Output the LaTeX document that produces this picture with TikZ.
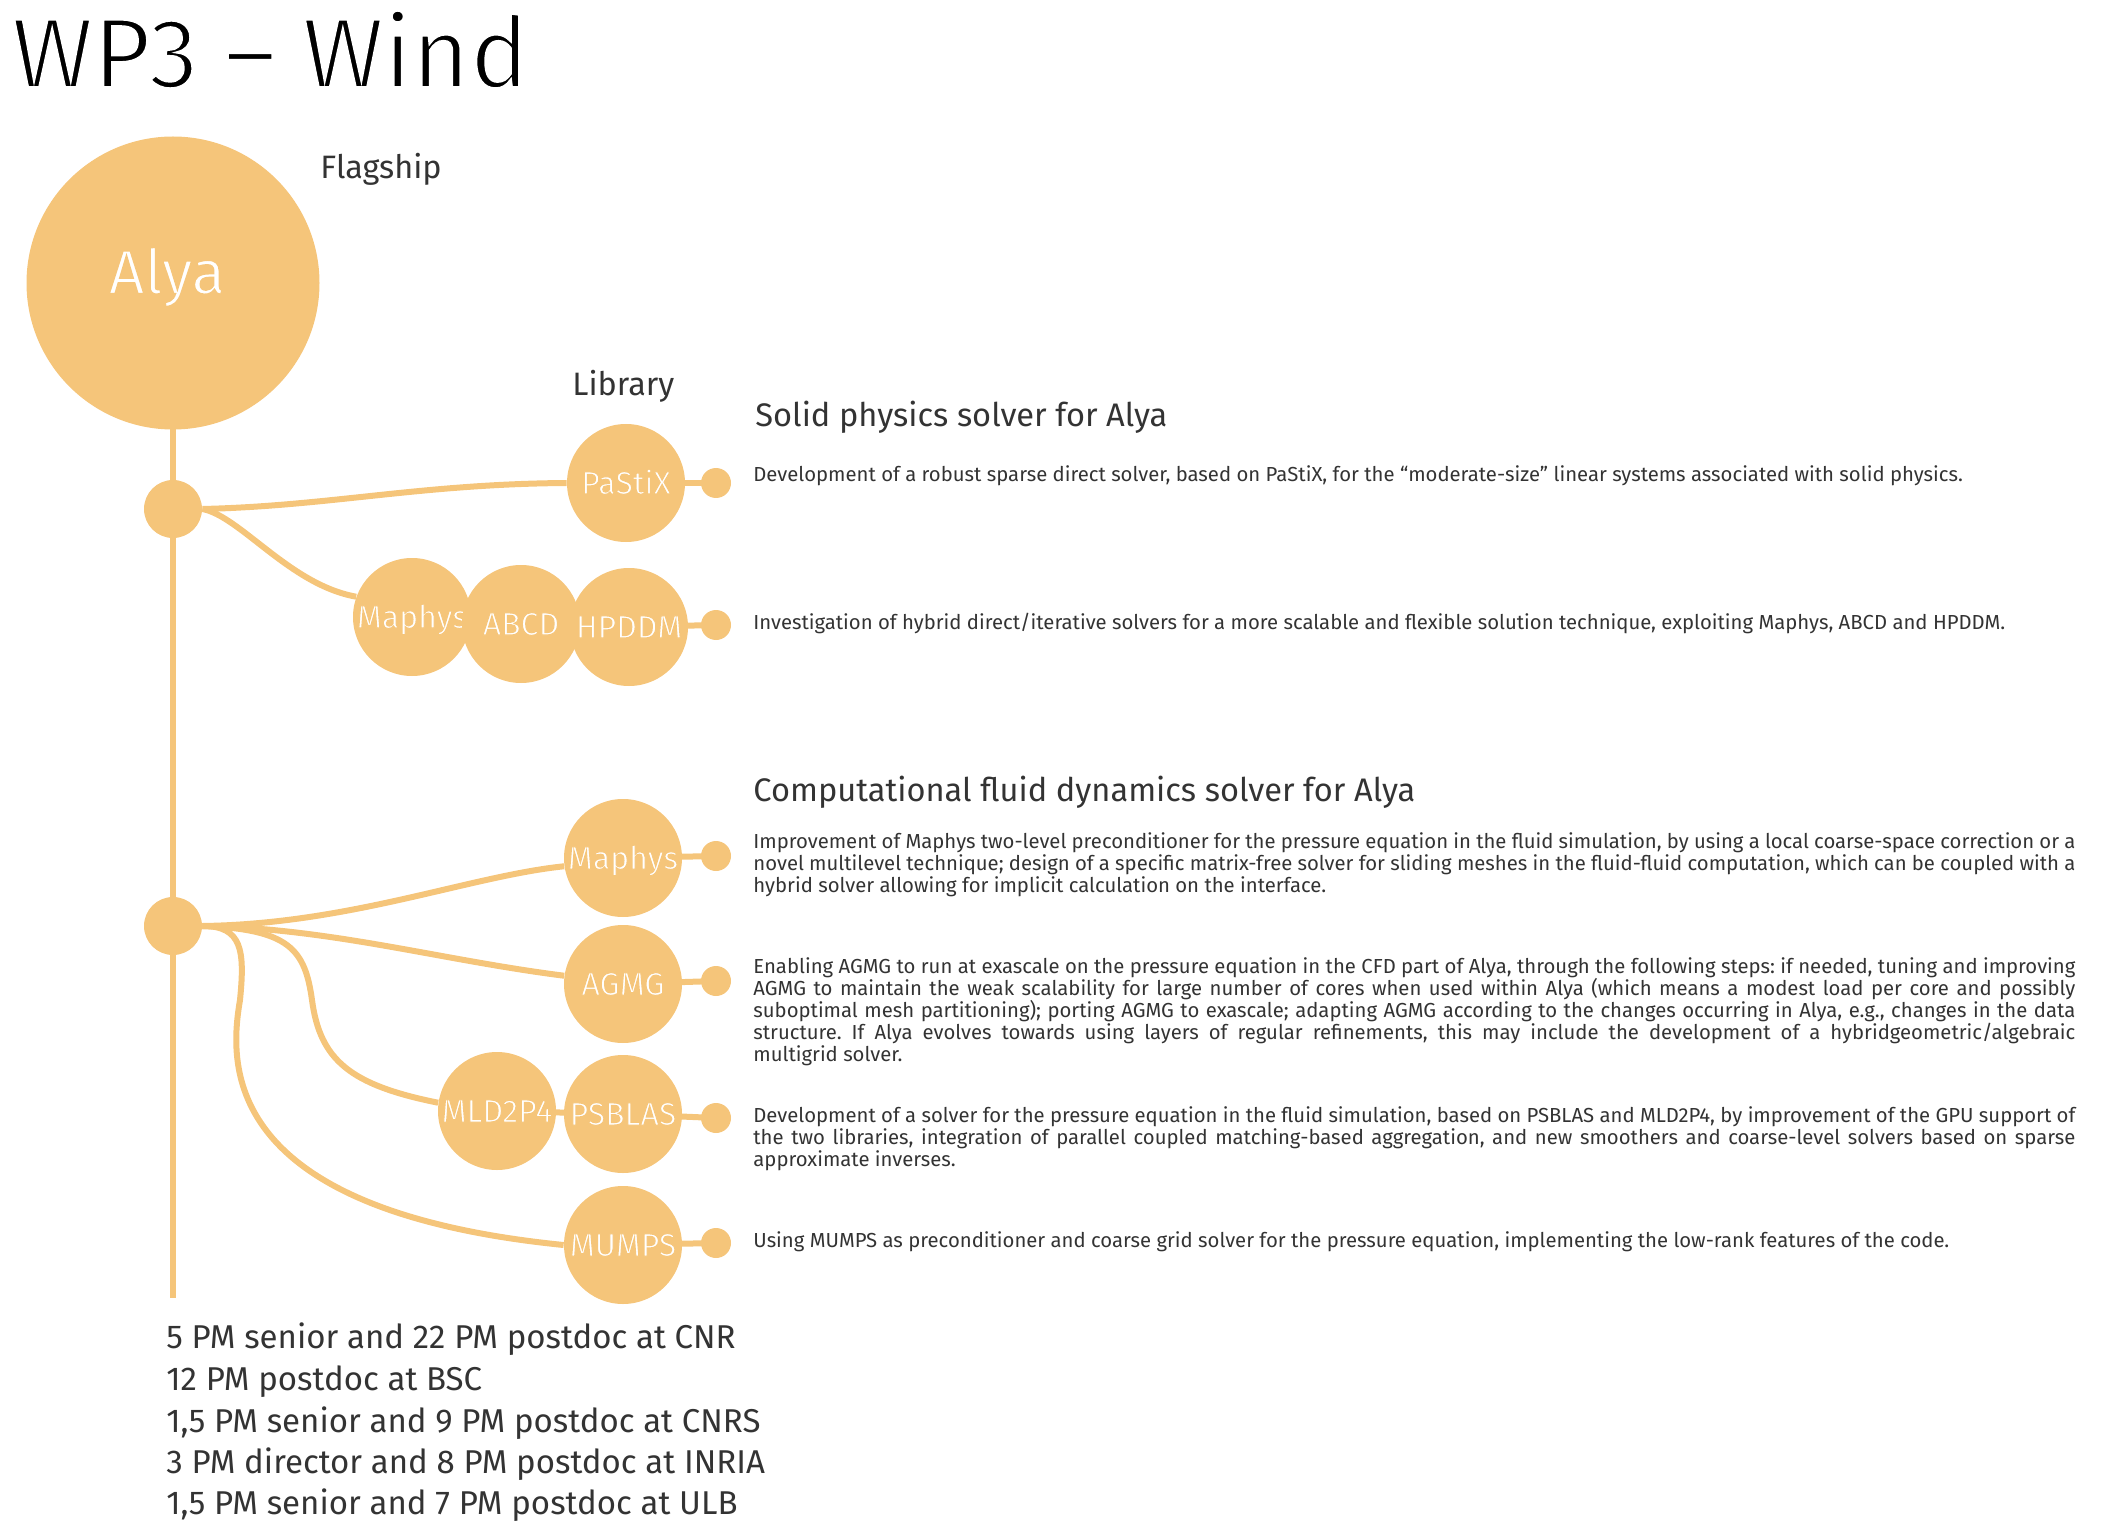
\documentclass[tikz,border=0pt]{standalone}
\usepackage{fontspec}
\setmainfont{Fira Sans}
\definecolor{orangec}{HTML}{F5C57A}
\definecolor{txtgray}{HTML}{333333}
\newcommand\thinstroke{\special{pdf:literal direct 1 1 1 RG 1.4 w 2 Tr}}
\newcommand\thinorange[1]{\special{pdf:literal direct 0.961 0.773 0.478 RG #1 w 2 Tr}}
\newcommand\thinend{\special{pdf:literal direct 0 Tr}}
\newcommand\libtext[1]{\thinorange{0.5}#1\thinend}
\pgfdeclarelayer{bg}
\pgfsetlayers{bg,main}
\tikzset{
  lib/.style={circle, fill=orangec, minimum size=59pt, inner sep=0pt, text=white,
    font=\fontsize{16}{16}\selectfont, text height=11pt, text depth=0pt},
  enddot/.style={circle, fill=orangec, minimum size=15pt, inner sep=0pt},
  junc/.style={circle, fill=orangec, minimum size=29pt, inner sep=0pt},
  conn/.style={draw=orangec, line width=3pt},
  para/.style={anchor=base west, inner sep=0pt, text width=661pt, align=justify,
    font=\fontsize{10.15}{11}\selectfont\frenchspacing, text=txtgray},
  head/.style={anchor=base west, inner sep=0pt, font=\fontsize{16.3}{16.3}\selectfont, text=txtgray},
  cat/.style={anchor=base west, inner sep=0pt, font=\fontsize{16.2}{16.2}\selectfont, text=txtgray},
  pm/.style={anchor=base west, inner sep=0pt, font=\fontsize{16.5}{16.5}\selectfont, text=txtgray}
}
\begin{document}
\begin{tikzpicture}[x=0.5pt,y=-0.5pt]
\useasboundingbox (0,0) rectangle (2126,1535);
% title
\node[anchor=base west, inner sep=0pt, font=\fontsize{49.5}{49.5}\selectfont] (title) at (11,87.5) {\thinstroke WP3 – Wind\thinend};
% flagship
\node[circle, fill=orangec, minimum size=146.5pt, inner sep=0pt] (alya) at (173,283) {};
\node[anchor=base, inner sep=0pt, text=white, font=\fontsize{31}{31}\selectfont] (alyatext) at (167,293.6) {\thinorange{0.8}Alya\thinend};
\node[cat] (flagship) at (320,178.6) {Flagship};
\node[cat] (library) at (572,396) {Library};
% junctions
\node[junc] (j1) at (173,509) {};
\node[junc] (j2) at (173,926) {};
\coordinate (vend) at (173,1298);
% libraries
\node[lib] (pastix) at (626,483) {\libtext{PaStiX}};
\node[lib] (maphysA) at (412,617) {\libtext{Maphys}};
\node[lib] (abcd) at (521,624) {\libtext{ABCD}};
\node[lib] (hpddm) at (629,627) {\libtext{HPDDM}};
\node[lib] (maphysB) at (623,858) {\libtext{Maphys}};
\node[lib] (agmg) at (623,984) {\libtext{AGMG}};
\node[lib] (mld) at (497,1111) {\libtext{MLD2P4}};
\node[lib] (psblas) at (623,1114) {\libtext{PSBLAS}};
\node[lib] (mumps) at (623,1245) {\libtext{MUMPS}};
% end dots
\node[enddot] (d1) at (716,483) {};
\node[enddot] (d2) at (716,625) {};
\node[enddot] (d3) at (716,856) {};
\node[enddot] (d4) at (716,981) {};
\node[enddot] (d5) at (716,1118) {};
\node[enddot] (d6) at (716,1243) {};
% connectors
\begin{pgfonlayer}{bg}
\draw[conn] (alya.center) -- (vend);
\draw[conn] (j1.east) .. controls (330,506) and (420,484) .. (pastix.west);
\draw[conn] (j1.east) .. controls (240,516) and (290,585) .. (maphysA.160);
\draw[conn] (j2.east) .. controls (350,924) and (470,876) .. (maphysB.188);
\draw[conn] (j2.east) .. controls (330,928) and (440,960) .. (agmg.172);
\draw[conn] (j2.east) .. controls (290,929) and (305,950) .. (312,1000)
   .. controls (320,1060) and (350,1085) .. (mld.172);
\draw[conn] (j2.east) .. controls (242,926) and (245,950) .. (240,1000)
   .. controls (230,1060) and (215,1210) .. (mumps.west);
\draw[conn] (pastix.center) -- (d1.center);
\draw[conn] (hpddm.center) -- (d2.center);
\draw[conn] (maphysB.center) -- (d3.center);
\draw[conn] (agmg.center) -- (d4.center);
\draw[conn] (psblas.center) -- (d5.center);
\draw[conn] (mld.center) -- (psblas.center);
\draw[conn] (mumps.center) -- (d6.center);
\end{pgfonlayer}
% headings
\node[head] (h1) at (755,427) {Solid physics solver for Alya};
\node[head] (h2) at (753,801) {Computational fluid dynamics solver for Alya};
% paragraphs
\node[para] (p1) at (753,481) {Development of a robust sparse direct solver, based on PaStiX, for the “moderate-size” linear systems associated with solid physics.};
\node[para] (p2) at (753,629) {Investigation of hybrid direct/iterative solvers for a more scalable and flexible solution technique, exploiting Maphys, ABCD and HPDDM.};
\node[para] (p3) at (753,848) {Improvement of Maphys two-level preconditioner for the pressure equation in the fluid simulation, by using a local coarse-space correction or a\linebreak novel multilevel technique; design of a specific matrix-free solver for sliding meshes in the fluid-fluid computation, which can be coupled with a\linebreak hybrid solver allowing for implicit calculation on the interface.};
\node[para] (p4) at (753,973) {Enabling AGMG to run at exascale on the pressure equation in the CFD part of Alya, through the following steps: if needed, tuning and improving\linebreak AGMG to maintain the weak scalability for large number of cores when used within Alya (which means a modest load per core and possibly\linebreak suboptimal mesh partitioning); porting AGMG to exascale; adapting AGMG according to the changes occurring in Alya, e.g., changes in the data\linebreak structure. If Alya evolves towards using layers of regular refinements, this may include the development of a hybridgeometric/algebraic\linebreak multigrid solver.};
\node[para] (p5) at (753,1122) {Development of a solver for the pressure equation in the fluid simulation, based on PSBLAS and MLD2P4, by improvement of the GPU support of\linebreak the two libraries, integration of parallel coupled matching-based aggregation, and new smoothers and coarse-level solvers based on sparse\linebreak approximate inverses.};
\node[para] (p6) at (753,1247) {Using MUMPS as preconditioner and coarse grid solver for the pressure equation, implementing the low-rank features of the code.};
% person-months
\node[pm] (b1) at (166,1348) {5 PM senior and 22 PM postdoc at CNR};
\node[pm] (b2) at (166,1390) {12 PM postdoc at BSC};
\node[pm] (b3) at (166,1432) {1,5 PM senior and 9 PM postdoc at CNRS};
\node[pm] (b4) at (166,1473) {3 PM director and 8 PM postdoc at INRIA};
\node[pm] (b5) at (166,1514) {1,5 PM senior and 7 PM postdoc at ULB};
\end{tikzpicture}
\end{document}
